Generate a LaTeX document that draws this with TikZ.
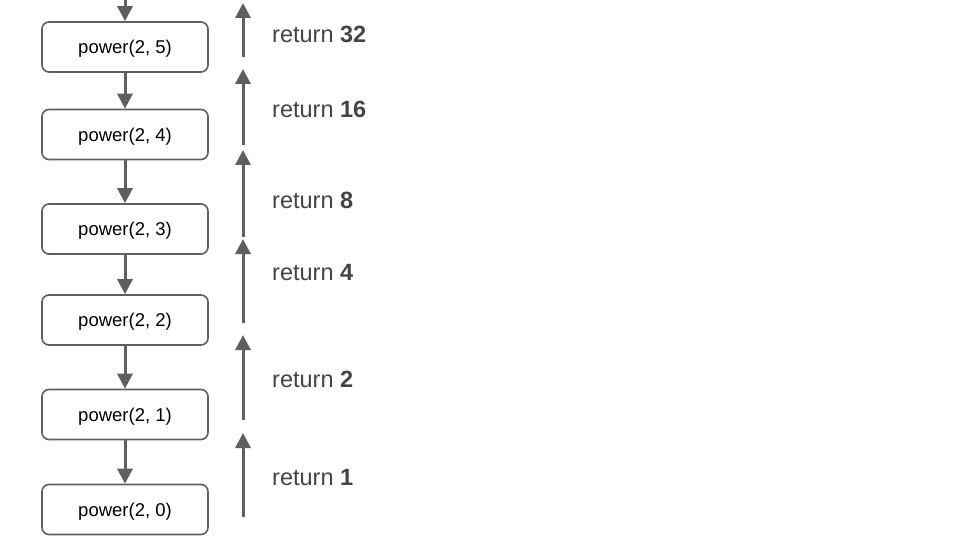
\documentclass[tikz,border=0pt]{standalone}
\usepackage{fontspec}
\setmainfont{Liberation Sans}
\usetikzlibrary{arrows.meta}
\definecolor{ln}{HTML}{5F5F5F}
\definecolor{tx}{HTML}{444444}
\tikzset{
  callbox/.style={draw=ln, line width=1.6pt, rounded corners=7pt, minimum width=166pt, minimum height=50pt, inner sep=0pt, text height=13.5pt, text depth=0pt, font=\fontsize{18.5}{22}\selectfont, text=black},
  callarrow/.style={draw=ln, line width=3pt, -{Triangle[length=15pt,width=15pt]}},
  rettext/.style={anchor=west, inner sep=0pt, font=\fontsize{23.5}{27}\selectfont, text=tx},
}
\begin{document}
\begin{tikzpicture}[x=1pt,y=-1pt]
\useasboundingbox[fill=white] (0,0) rectangle (960,540);
\node[callbox] (b5) at (125,47) {power(2, 5)};
\node[callbox] (b4) at (125,134.5) {power(2, 4)};
\node[callbox] (b3) at (125,229) {power(2, 3)};
\node[callbox] (b2) at (125,320) {power(2, 2)};
\node[callbox] (b1) at (125,414.5) {power(2, 1)};
\node[callbox] (b0) at (125,509.5) {power(2, 0)};
\coordinate (top) at (125,-2);
\draw[callarrow] (top) -- (b5.north);
\draw[callarrow] (b5) -- (b4);
\draw[callarrow] (b4) -- (b3);
\draw[callarrow] (b3) -- (b2);
\draw[callarrow] (b2) -- (b1);
\draw[callarrow] (b1) -- (b0);
\coordinate (r1s) at (243,57);  \coordinate (r1e) at (243,3);
\coordinate (r2s) at (243,145); \coordinate (r2e) at (243,69);
\coordinate (r3s) at (243,237); \coordinate (r3e) at (243,150);
\coordinate (r4s) at (243,323); \coordinate (r4e) at (243,239);
\coordinate (r5s) at (243,420); \coordinate (r5e) at (243,335);
\coordinate (r6s) at (243,517); \coordinate (r6e) at (243,433);
\draw[callarrow] (r1s) -- (r1e);
\draw[callarrow] (r2s) -- (r2e);
\draw[callarrow] (r3s) -- (r3e);
\draw[callarrow] (r4s) -- (r4e);
\draw[callarrow] (r5s) -- (r5e);
\draw[callarrow] (r6s) -- (r6e);
\node[rettext] (t1) at (272,34.5) {return \textbf{32}};
\node[rettext] (t2) at (272,109.5) {return \textbf{16}};
\node[rettext] (t3) at (272,200.5) {return \textbf{8}};
\node[rettext] (t4) at (272,272.5) {return \textbf{4}};
\node[rettext] (t5) at (272,379.5) {return \textbf{2}};
\node[rettext] (t6) at (272,477.5) {return \textbf{1}};
\end{tikzpicture}
\end{document}
